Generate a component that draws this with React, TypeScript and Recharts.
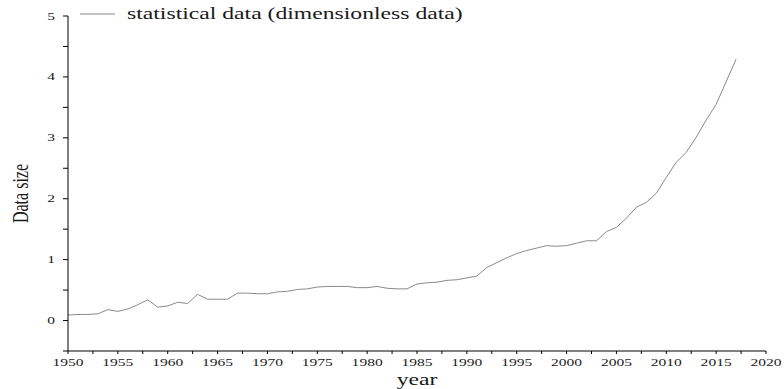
import React from "react";
import { LineChart, Line, XAxis, YAxis, Legend } from "recharts";

// values
const years = [
  1950, 1951, 1952, 1953, 1954, 1955, 1956, 1957, 1958, 1959,
  1960, 1961, 1962, 1963, 1964, 1965, 1966, 1967, 1968, 1969,
  1970, 1971, 1972, 1973, 1974, 1975, 1976, 1977, 1978, 1979,
  1980, 1981, 1982, 1983, 1984, 1985, 1986, 1987, 1988, 1989,
  1990, 1991, 1992, 1993, 1994, 1995, 1996, 1997, 1998, 1999,
  2000, 2001, 2002, 2003, 2004, 2005, 2006, 2007, 2008, 2009,
  2010, 2011, 2012, 2013, 2014, 2015, 2016, 2017,
];
const dataSize = [
  0.09, 0.1, 0.1, 0.11, 0.18, 0.15, 0.19, 0.26, 0.34, 0.22,
  0.24, 0.3, 0.28, 0.43, 0.35, 0.35, 0.35, 0.45, 0.45, 0.44,
  0.44, 0.47, 0.48, 0.51, 0.52, 0.55, 0.56, 0.56, 0.56, 0.54,
  0.54, 0.56, 0.53, 0.52, 0.52, 0.6, 0.62, 0.63, 0.66, 0.67,
  0.7, 0.73, 0.87, 0.95, 1.03, 1.1, 1.15, 1.19, 1.23, 1.22,
  1.23, 1.27, 1.31, 1.31, 1.46, 1.53, 1.68, 1.86, 1.94, 2.09,
  2.35, 2.6, 2.76, 3.01, 3.29, 3.55, 3.92, 4.29,
];
const xTicks = [
  1950, 1952.5, 1955, 1957.5, 1960, 1962.5, 1965, 1967.5, 1970, 1972.5,
  1975, 1977.5, 1980, 1982.5, 1985, 1987.5, 1990, 1992.5, 1995, 1997.5,
  2000, 2002.5, 2005, 2007.5, 2010, 2012.5, 2015, 2017.5, 2020,
];
const yTicks = [-0.5, 0, 0.5, 1, 1.5, 2, 2.5, 3, 3.5, 4, 4.5, 5];
const seriesName = "statistical data (dimensionless data)";

const data = years.map((year, i) => ({ year, value: dataSize[i] }));

const FONT = "'Liberation Serif', 'Times New Roman', serif";
const TEXT = "#1a1a1a";
const SX = 1.48; // the reference is stretched sideways

function XTick(props: any) {
  const { x, y, payload } = props;
  if (payload.value % 5 !== 0) return null;
  return (
    <text
      transform={`translate(${x},${y + 10}) scale(${SX},1)`}
      textAnchor="middle"
      fontFamily={FONT}
      fontSize={10.5}
      fill={TEXT}
    >
      {payload.value}
    </text>
  );
}

function YTick(props: any) {
  const { x, y, payload } = props;
  if (!Number.isInteger(payload.value)) return null;
  return (
    <text
      transform={`translate(${x - 6},${y + 3.5}) scale(${SX},1)`}
      textAnchor="end"
      fontFamily={FONT}
      fontSize={10.5}
      fill={TEXT}
    >
      {payload.value}
    </text>
  );
}

function renderLegend(props: any) {
  const item = props.payload?.[0];
  if (!item) return null;
  return (
    <svg width={480} height={26} style={{ display: "block" }}>
      <line x1={80} x2={115} y1={14} y2={14} stroke={item.color} strokeWidth={1} />
      <text
        transform={`translate(127,19) scale(${SX},1)`}
        fontFamily={FONT}
        fontSize={16}
        fill={TEXT}
      >
        {item.value}
      </text>
    </svg>
  );
}

function YLabel(props: any) {
  const vb = props.viewBox;
  const cy = vb.y + vb.height / 2 + 10;
  return (
    <text
      transform={`translate(28,${cy}) rotate(-90) scale(1,1.4)`}
      textAnchor="middle"
      fontFamily={FONT}
      fontSize={16}
      fill={TEXT}
    >
      Data size
    </text>
  );
}

function XLabel(props: any) {
  const vb = props.viewBox;
  return (
    <text
      transform={`translate(${vb.x + vb.width / 2},385) scale(${SX},1)`}
      textAnchor="middle"
      fontFamily={FONT}
      fontSize={16}
      fill={TEXT}
    >
      year
    </text>
  );
}

export default function App() {
  return (
    <div style={{ position: "absolute", left: 0, top: 0, background: "#fff" }}>
      <LineChart
        width={784}
        height={389}
        data={data}
        margin={{ top: 16, right: 18, bottom: 0, left: 8 }}
      >
        <XAxis
          dataKey="year"
          type="number"
          domain={[1950, 2020]}
          ticks={xTicks}
          interval={0}
          height={38}
          stroke="#000"
          tickSize={3}
          tick={<XTick />}
          label={<XLabel />}
        />
        <YAxis
          type="number"
          domain={[-0.5, 5]}
          ticks={yTicks}
          interval={0}
          width={60}
          stroke="#000"
          tickSize={5}
          tick={<YTick />}
          label={<YLabel />}
        />
        <Legend
          layout="horizontal"
          verticalAlign="middle"
          align="center"
          wrapperStyle={{ top: 0, left: 0, width: 480, height: 26 }}
          content={renderLegend}
        />
        <Line
          type="linear"
          dataKey="value"
          name={seriesName}
          stroke="#8a8a8a"
          strokeWidth={1}
          dot={false}
          isAnimationActive={false}
        />
      </LineChart>
    </div>
  );
}
